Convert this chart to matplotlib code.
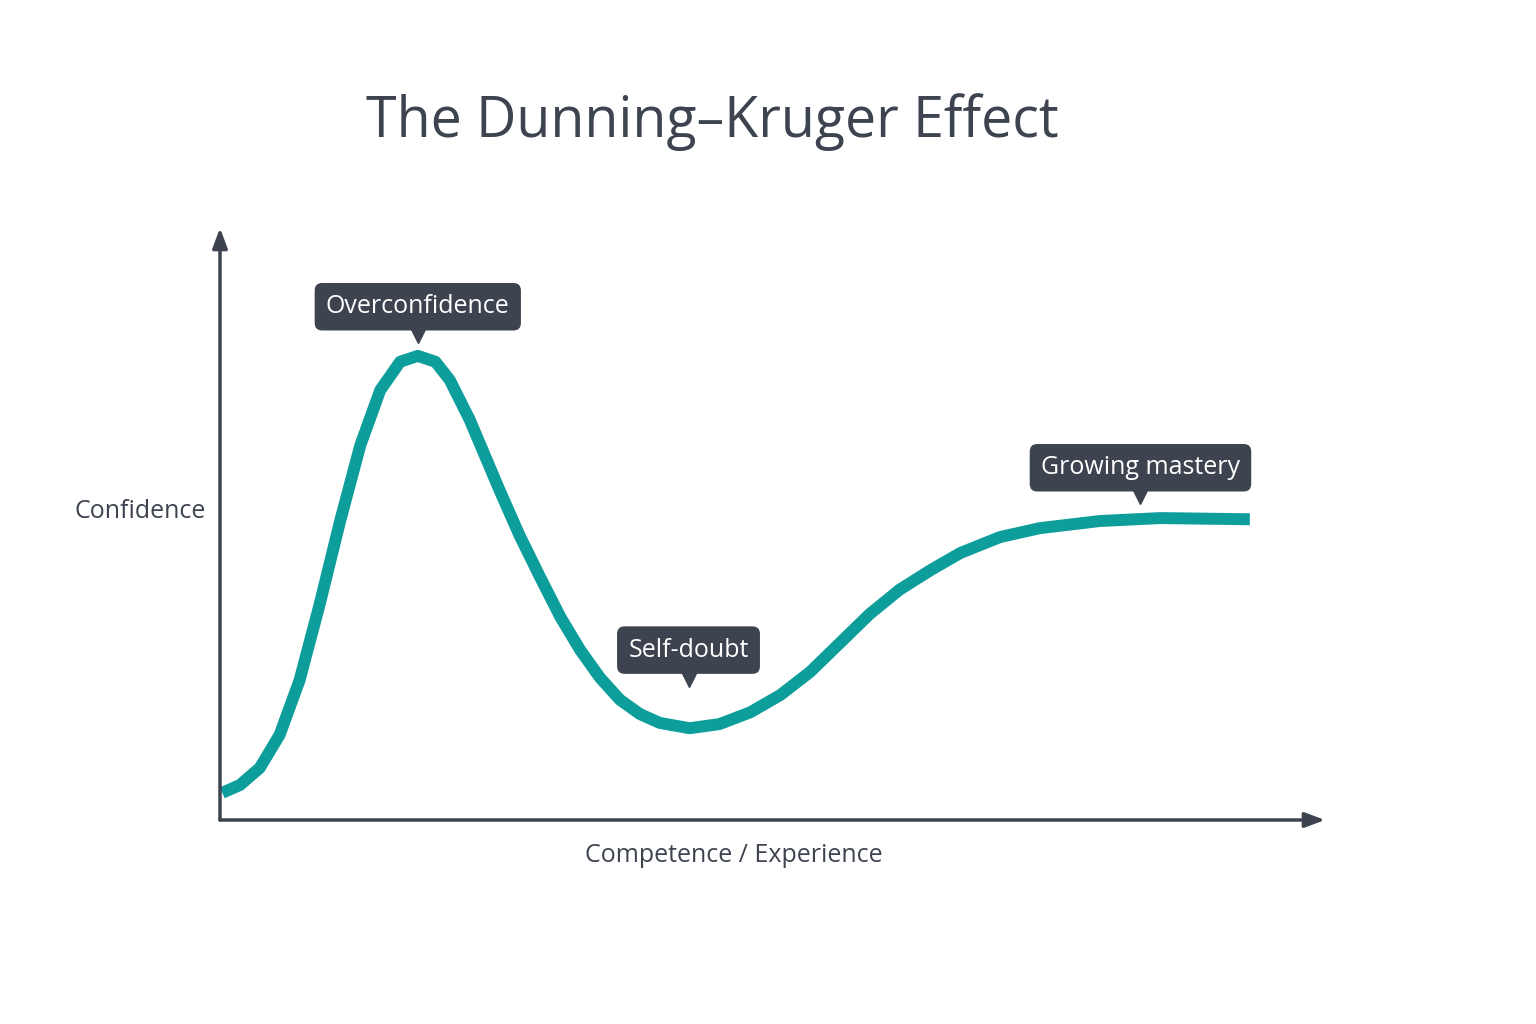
import matplotlib
matplotlib.use("Agg")
import matplotlib.pyplot as plt

competence = [0.2, 1.8, 3.6, 5.4, 7.2, 9.0, 10.9, 12.7, 14.5, 16.3, 17.9, 19.5, 20.8, 22.6,
              25.3, 27.1, 29.0, 30.8, 32.6, 34.4, 36.2, 38.0, 39.8, 42.5, 45.2, 48.0, 50.7,
              53.4, 56.1, 58.8, 61.5, 64.3, 67.0, 70.6, 74.2, 79.6, 85.1, 93.2]
confidence = [4.6, 5.9, 8.8, 14.4, 23.6, 36.3, 50.7, 63.3, 72.6, 77.4, 78.4, 77.4, 74.3, 67.6,
              55.7, 48.1, 40.9, 34.3, 28.7, 24.0, 20.3, 17.9, 16.4, 15.5, 16.2, 18.2, 21.1,
              25.0, 29.9, 34.8, 38.9, 42.2, 45.1, 47.8, 49.3, 50.5, 51.0, 50.8]
labels = ["Overconfidence", "Self-doubt", "Growing mastery"]
label_x = [17.9, 42.4, 83.3]
label_tip_y = [80.6, 22.6, 53.4]

plt.rcParams['font.family'] = ['Open Sans', 'DejaVu Sans']
dark = "#3d4450"
teal = "#0d9e9c"

fig = plt.figure(figsize=(15.36, 10.24), dpi=100)
fig.patch.set_facecolor("white")
ax = fig.add_axes([220/1536, 1-820/1024, 1105/1536, 592/1024])
ax.set_xlim(0, 100)
ax.set_ylim(0, 100)
ax.axis("off")

ax.plot(competence, confidence, color=teal, lw=8.6, solid_capstyle="butt", solid_joinstyle="round", zorder=3)

ax.annotate("", xy=(1.0, 0), xytext=(0, 0), xycoords="axes fraction",
            arrowprops=dict(arrowstyle="-|>,head_length=1.2,head_width=0.45", color=dark, lw=2.5, shrinkA=0, shrinkB=0))
ax.annotate("", xy=(0, 1.0), xytext=(0, 0), xycoords="axes fraction",
            arrowprops=dict(arrowstyle="-|>,head_length=1.2,head_width=0.45", color=dark, lw=2.5, shrinkA=0, shrinkB=0))

for lab, x, ty in zip(labels, label_x, label_tip_y):
    ax.plot([x], [ty + 1.3], marker="v", markersize=11, color=dark, zorder=4, clip_on=False)
    ax.text(x, ty + 6.1, lab, ha="center", va="center", fontsize=18, color="white", zorder=5,
            bbox=dict(boxstyle="round,pad=0.45,rounding_size=0.3", fc=dark, ec="none"))

fig.text(712/1536, 1-122/1024, "The Dunning\u2013Kruger Effect", ha="center", va="center",
         fontsize=40, color=dark)
fig.text(140/1536, 1-511/1024, "Confidence", ha="center", va="center", fontsize=18, color=dark)
fig.text(734/1536, 1-855/1024, "Competence / Experience", ha="center", va="center", fontsize=18, color=dark)

fig.savefig("out.png", dpi=100, facecolor="white")
